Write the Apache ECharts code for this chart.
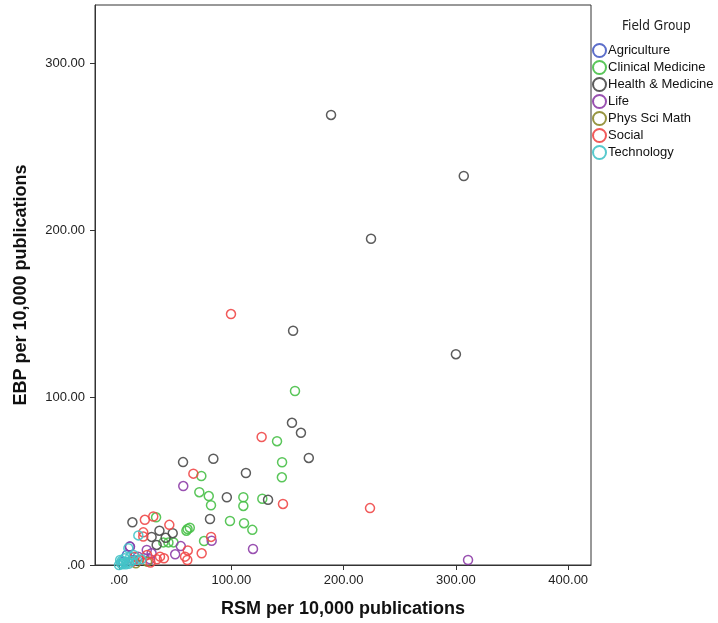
<!DOCTYPE html>
<html>
<head>
<meta charset="utf-8">
<script src="https://cdn.jsdelivr.net/npm/echarts@6/dist/echarts.min.js"></script>
<style>
html,body{margin:0;padding:0;background:#fff;}
#chart{width:718px;height:623px;}
</style>
</head>
<body>
<div id="chart"></div>
<script>
// Field groups (legend order)
var groups = ['Agriculture','Clinical Medicine','Health & Medicine','Life','Phys Sci Math','Social','Technology'];
var groupColors = ['#4a5ec4','#48c048','#4a4a4a','#8e3ea8','#8c8a2c','#f04848','#45c3c8'];

// [RSM per 10,000, EBP per 10,000]
var agriculture = [[9.5,11],[7,6],[13,3],[4,2]];
var clinicalMedicine = [[156.7,104],[140.7,74],[145.2,61.4],[145,52.4],[110.7,40.5],[110.7,35.3],[127.6,39.6],[98.8,26.3],[111.3,25],[118.7,21],[73.3,53.2],[71.5,43.5],[79.9,41.2],[81.9,35.7],[61,21.5],[63,22.3],[60,20.5],[39.5,13.5],[44,13.5],[48.5,13.5],[75.7,14.3],[33,28.5]];
var healthMedicine = [[188.8,269],[307,232.5],[224.4,195],[155,140],[300,126],[154,85],[162,79],[169,64],[84,63.5],[57,61.5],[113,55],[96,40.5],[132.7,39],[81,27.5],[47.8,19],[11.9,25.5],[36,20.5],[29,16.8],[41.5,16.3],[33.5,12]];
var life = [[310.8,3],[119.3,9.6],[57.2,47.2],[82.5,14.5],[55,11.3],[50,6.4],[9.8,11],[24.7,9],[29,7],[27.6,3.4],[17,5]];
var physSciMath = [[25,2],[15,1]];
var social = [[99.7,150],[127,76.5],[146,36.5],[223.5,34],[66.2,54.6],[23,27],[30.5,29],[44.8,24],[82,16.8],[73.6,7],[58.8,5],[60.8,3],[61.2,8.7],[36.5,5],[21.6,17],[21.6,19.5],[33.6,3.4],[14,5],[18,3],[25,6],[28,1.5],[40,4],[12,2]];
var technology = [[0,0],[1.5,1],[3,0.5],[4.5,1.5],[6,0.5],[7.5,1.8],[9,0.8],[2.5,2.5],[11,2.5],[5,4],[8.3,10],[17.2,17.7],[20,3.4],[13,6],[16,3],[1,3],[10,5]];
var groupData = [agriculture, clinicalMedicine, healthMedicine, life, physSciMath, social, technology];

var xTicks = [0,100,200,300,400];
var yTicks = [0,100,200,300];

function fmt(v){ return v === 0 ? '.00' : v.toFixed(2); }

var chart = echarts.init(document.getElementById('chart'), null, {renderer:'canvas'});
var FONT = '"Liberation Sans", Arial, sans-serif';
var NARROW = '"Liberation Sans Narrow", "DejaVu Sans Condensed", "Liberation Sans", Arial, sans-serif';

var series = groups.map(function(g, i){
  return {
    name: g,
    type: 'scatter',
    symbol: 'circle',
    symbolSize: 9,
    data: groupData[i],
    itemStyle: {color: 'rgba(0,0,0,0)', borderColor: groupColors[i], borderWidth: 1.5, opacity: 0.9},
    emphasis: {disabled: true}
  };
});

chart.setOption({
  animation: false,
  backgroundColor: '#fff',
  textStyle: {fontFamily: FONT},
  title: {
    text: 'Field Group', left: 617, top: 14,
    textStyle: {fontSize: 13.5, fontWeight: 'normal', color: '#222', fontFamily: NARROW}
  },
  legend: {
    orient: 'vertical', left: 592, top: 43, padding: 0,
    itemWidth: 13, itemHeight: 13, itemGap: 2,
    icon: 'circle',
    textStyle: {fontSize: 13, lineHeight: 13, color: '#111', fontFamily: FONT, padding: [0,0,0,-3]},
    data: groups
  },
  grid: {
    left: 95, right: 127, top: 5, bottom: 58,
    outerBoundsMode: 'none', containLabel: false,
    show: true, borderColor: '#333', borderWidth: 1, backgroundColor: 'transparent'
  },
  xAxis: {
    type: 'value', min: -21.4, max: 420.3,
    name: 'RSM per 10,000 publications', nameLocation: 'middle', nameGap: 35,
    nameTextStyle: {fontSize: 18, fontWeight: 'bold', color: '#111', fontFamily: FONT},
    axisLine: {show: true, onZero: false, lineStyle: {color: '#333', width: 1}},
    axisTick: {show: true, customValues: xTicks, length: 5, lineStyle: {color: '#333'}},
    axisLabel: {customValues: xTicks, formatter: fmt, fontSize: 13, color: '#222', margin: 9, fontFamily: FONT},
    splitLine: {show: false}
  },
  yAxis: {
    type: 'value', min: 0, max: 334.7,
    name: 'EBP per 10,000 publications', nameLocation: 'middle', nameGap: 65,
    nameTextStyle: {fontSize: 18, fontWeight: 'bold', color: '#111', fontFamily: FONT},
    axisLine: {show: true, onZero: false, lineStyle: {color: '#333', width: 1}},
    axisTick: {show: true, customValues: yTicks, length: 5, lineStyle: {color: '#333'}},
    axisLabel: {customValues: yTicks, formatter: fmt, fontSize: 13, color: '#222', margin: 10, fontFamily: FONT},
    splitLine: {show: false}
  },
  series: series
});
</script>
</body>
</html>
